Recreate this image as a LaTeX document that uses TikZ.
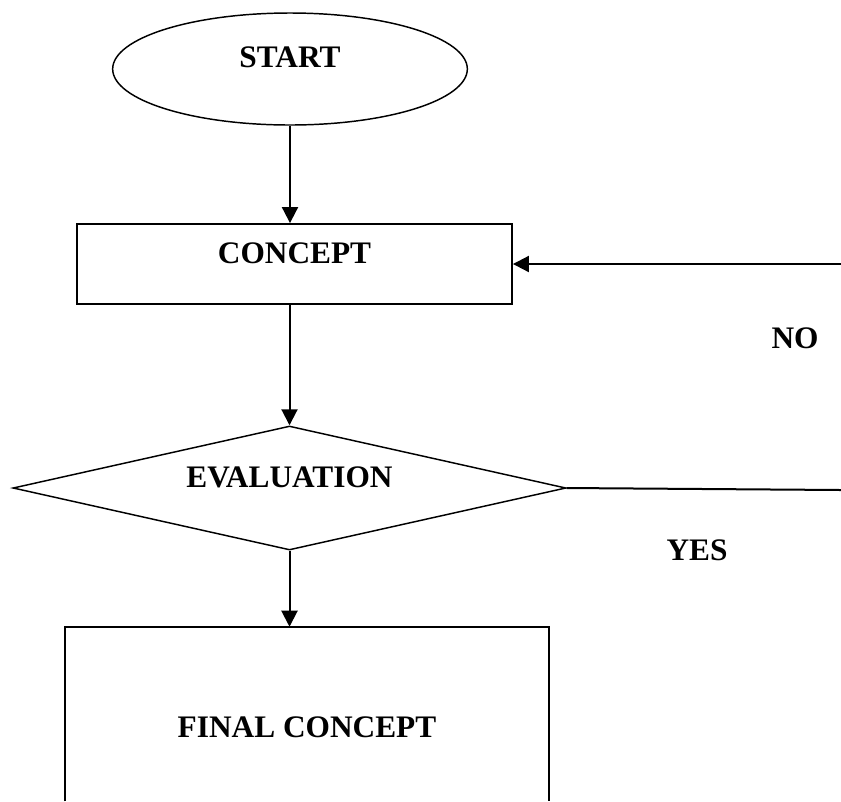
\documentclass[tikz,border=0pt]{standalone}
\usepackage{fontspec}
\setmainfont{Liberation Serif}
\usetikzlibrary{shapes.geometric,arrows.meta}

\begin{document}
\begin{tikzpicture}[x=0.75pt, y=-0.75pt,
    font=\fontsize{23.5}{28}\selectfont\bfseries,
    every node/.style={inner sep=0pt, text height=15.6pt},
    box/.style={draw, line width=1.4pt, minimum width=326.25pt, minimum height=60pt, text depth=16.5pt},
    startnode/.style={ellipse, draw, line width=1.1pt, minimum width=266pt, minimum height=84pt, text depth=18pt},
    decision/.style={diamond, draw, line width=1.1pt, aspect=4.46, minimum width=414.75pt, minimum height=93pt, text depth=16.5pt},
    flow/.style={line width=1.5pt, -{Triangle[length=12pt, width=12pt]}},
  ]
    \useasboundingbox (0,0) rectangle (841,801);
    \node[startnode] (start) at (290,69) {START};
    \node[box] (concept) at (294.5,264) {CONCEPT};
    \node[decision] (eval) at (289.5,488) {EVALUATION};
    \node[minimum width=363pt, minimum height=130.5pt, text height=35.1pt, text depth=0pt] (final) at (307,714) {FINAL CONCEPT};
    \draw[line width=1.4pt] (final.south west) -- (final.north west) -- (final.north east) -- (final.south east);
    \node[coordinate] (noin) at (841,264) {};
    \node[coordinate] (yesout) at (841,490) {};
    \node (no) at (795,338) {NO};
    \node (yes) at (697,550) {YES};
    \draw[flow] (start.south) -- (start.south |- concept.north);
    \draw[flow] (eval.north |- concept.south) -- (eval.north);
    \draw[flow] (eval.south) -- (eval.south |- final.north);
    \draw[flow] (noin) -- (concept.east);
    \draw[line width=1.5pt] (eval.east) -- (yesout);
  \end{tikzpicture}
\end{document}
